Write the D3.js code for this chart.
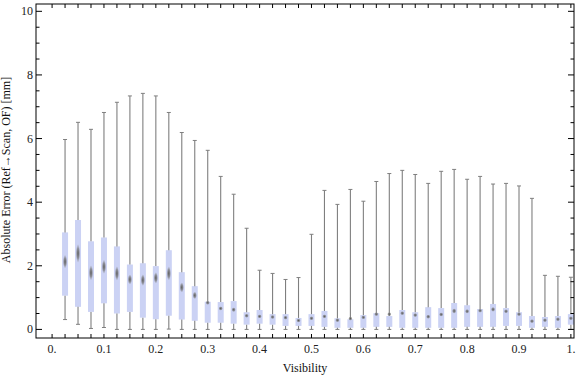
<!DOCTYPE html>
<html>
<head>
<meta charset="utf-8">
<script src="https://d3js.org/d3.v7.min.js"></script>
<style>
  body { margin: 0; background: #fff; }
  text { font-family: "Liberation Serif", "DejaVu Serif", serif; }
</style>
</head>
<body>
<div id="chart"></div>
<script>

// box whisker data
var visibility = [0.025, 0.05, 0.075, 0.1, 0.125, 0.15, 0.175, 0.2, 0.225, 0.25,
                  0.275, 0.3, 0.325, 0.35, 0.375, 0.4, 0.425, 0.45, 0.475, 0.5,
                  0.525, 0.55, 0.575, 0.6, 0.625, 0.65, 0.675, 0.7, 0.725, 0.75,
                  0.775, 0.8, 0.825, 0.85, 0.875, 0.9, 0.925, 0.95, 0.975, 1.0];

var minVals = [0.31, 0.16, 0.03, 0.06, 0, 0, 0, 0, 0.01, 0,
               0, 0, 0, 0, 0, 0, 0, 0, 0, 0,
               0, 0, 0, 0, 0, 0, 0, 0, 0, 0,
               0, 0, 0, 0, 0, 0, 0, 0, 0, 0];

var q1Vals = [1.06, 0.71, 0.55, 0.82, 0.50, 0.55, 0.37, 0.32, 0.43, 0.31,
              0.27, 0.21, 0.21, 0.18, 0.15, 0.18, 0.15, 0.11, 0.11, 0.11,
              0.08, 0.05, 0.05, 0.05, 0.08, 0.08, 0.05, 0.05, 0.05, 0.05,
              0.05, 0.08, 0.08, 0.08, 0.11, 0.11, 0.05, 0.08, 0.05, 0.15];

var medianVals = [2.13, 2.39, 1.78, 1.97, 1.76, 1.57, 1.55, 1.62, 1.76, 1.32,
                  1.07, 0.84, 0.66, 0.62, 0.43, 0.41, 0.39, 0.37, 0.28, 0.35,
                  0.41, 0.29, 0.34, 0.38, 0.48, 0.48, 0.51, 0.45, 0.40, 0.47,
                  0.58, 0.57, 0.59, 0.63, 0.57, 0.48, 0.26, 0.29, 0.32, 0.35];

var q3Vals = [3.05, 3.44, 2.77, 2.89, 2.61, 2.04, 2.08, 1.99, 2.49, 1.80,
              1.36, 0.87, 0.86, 0.89, 0.54, 0.61, 0.48, 0.48, 0.36, 0.48,
              0.58, 0.35, 0.32, 0.45, 0.51, 0.42, 0.61, 0.54, 0.70, 0.67,
              0.83, 0.76, 0.64, 0.80, 0.67, 0.54, 0.42, 0.39, 0.42, 0.48];

var maxVals = [5.97, 6.51, 6.29, 6.82, 7.14, 7.34, 7.42, 7.34, 6.82, 6.19,
               5.94, 5.63, 4.81, 4.25, 3.18, 1.86, 1.76, 1.57, 1.63, 2.99,
               4.37, 3.93, 4.40, 4.03, 4.65, 4.90, 5.00, 4.87, 4.59, 4.97,
               5.03, 4.72, 4.81, 4.57, 4.59, 4.51, 4.12, 1.70, 1.67, 1.64];

var xTickLabels = ["0.", "0.1", "0.2", "0.3", "0.4", "0.5", "0.6", "0.7", "0.8", "0.9", "1."];
var yTickLabels = ["0", "2", "4", "6", "8", "10"];

var boxData = visibility.map(function (v, i) {
    return { x: v, min: minVals[i], q1: q1Vals[i], med: medianVals[i], q3: q3Vals[i], max: maxVals[i] };
});

// svg params
var svgWidth = 576;
var svgHeight = 377;

var margin = { top: 4, right: 2, bottom: 39, left: 36 };
var width = svgWidth - margin.left - margin.right;
var height = svgHeight - margin.top - margin.bottom;

var svg = d3.select("#chart")
    .append("svg")
    .attr("width", svgWidth)
    .attr("height", svgHeight);

var defs = svg.append("defs");

defs.append("clipPath")
    .attr("id", "plotClip")
    .append("rect")
    .attr("width", width)
    .attr("height", height);

// blurred median mark
var grad = defs.append("radialGradient").attr("id", "medGrad");
grad.append("stop").attr("offset", "0%").attr("stop-color", "#5a5a5a").attr("stop-opacity", 1);
grad.append("stop").attr("offset", "55%").attr("stop-color", "#777").attr("stop-opacity", 0.7);
grad.append("stop").attr("offset", "100%").attr("stop-color", "#999").attr("stop-opacity", 0);

var chartGroup = svg.append("g")
    .attr("transform", `translate(${margin.left}, ${margin.top})`);

// scales
var xLinearScale = d3.scaleLinear()
    .domain([-0.031, 1.006])
    .range([0, width]);

var yLinearScale = d3.scaleLinear()
    .domain([-0.27, 10.23])
    .range([height, 0]);

var xMinor = d3.range(0, 41).map(function (i) { return i * 0.025; });
var xMajor = d3.range(0, 11).map(function (i) { return i / 10; });
var yMajor = yTickLabels.map(Number);
var yMinor = d3.range(0, 21).map(function (i) { return i * 0.5; }).filter(function (v) { return v % 2 !== 0; });

// boxes
var plot = chartGroup.append("g").attr("clip-path", "url(#plotClip)");

var boxW = 6;
var capW = 4;

var groups = plot.selectAll(".box")
    .data(boxData)
    .enter()
    .append("g")
    .attr("class", "box")
    .attr("transform", d => `translate(${xLinearScale(d.x)}, 0)`);

groups.append("rect")
    .attr("x", -boxW / 2)
    .attr("y", d => yLinearScale(d.q3))
    .attr("width", boxW)
    .attr("height", d => yLinearScale(d.q1) - yLinearScale(d.q3))
    .attr("fill", "#cbd2f4");

// whisker below and above the box
groups.append("line")
    .attr("x1", 0).attr("x2", 0)
    .attr("y1", d => yLinearScale(d.min))
    .attr("y2", d => yLinearScale(d.q1))
    .attr("stroke", "#7f7f7f")
    .attr("stroke-width", 1.1);

groups.append("line")
    .attr("x1", 0).attr("x2", 0)
    .attr("y1", d => yLinearScale(d.q3))
    .attr("y2", d => yLinearScale(d.max))
    .attr("stroke", "#7f7f7f")
    .attr("stroke-width", 1.1);

groups.selectAll(".cap")
    .data(d => [d.min, d.max])
    .enter()
    .append("line")
    .attr("class", "cap")
    .attr("x1", -capW / 2).attr("x2", capW / 2)
    .attr("y1", v => yLinearScale(v))
    .attr("y2", v => yLinearScale(v))
    .attr("stroke", "#7f7f7f")
    .attr("stroke-width", 1);

groups.append("ellipse")
    .attr("cx", 0)
    .attr("cy", d => yLinearScale(d.med))
    .attr("rx", 2.2)
    .attr("ry", d => Math.max(2.2, (yLinearScale(d.q1) - yLinearScale(d.q3)) * 0.11))
    .attr("fill", "url(#medGrad)");

// frame
chartGroup.append("rect")
    .attr("x", 0).attr("y", 0)
    .attr("width", width).attr("height", height)
    .attr("fill", "none")
    .attr("stroke", "#000")
    .attr("stroke-width", 1);

// ticks on all four sides
var tickG = chartGroup.append("g").attr("stroke", "#000").attr("stroke-width", 1);

xMinor.forEach(function (v) {
    var x = xLinearScale(v);
    tickG.append("line").attr("x1", x).attr("x2", x).attr("y1", height).attr("y2", height - 4);
    tickG.append("line").attr("x1", x).attr("x2", x).attr("y1", 0).attr("y2", 4);
});

yMajor.forEach(function (v) {
    var y = yLinearScale(v);
    tickG.append("line").attr("x1", 0).attr("x2", 6).attr("y1", y).attr("y2", y);
    tickG.append("line").attr("x1", width).attr("x2", width - 6).attr("y1", y).attr("y2", y);
});

yMinor.forEach(function (v) {
    var y = yLinearScale(v);
    tickG.append("line").attr("x1", 0).attr("x2", 3.5).attr("y1", y).attr("y2", y);
    tickG.append("line").attr("x1", width).attr("x2", width - 3.5).attr("y1", y).attr("y2", y);
});

// tick labels
chartGroup.selectAll(".xlabel")
    .data(xMajor)
    .enter()
    .append("text")
    .attr("class", "xlabel")
    .attr("x", d => xLinearScale(d))
    .attr("y", height + 15)
    .attr("text-anchor", "middle")
    .attr("font-size", "12px")
    .attr("fill", "#222")
    .text((d, i) => xTickLabels[i]);

chartGroup.selectAll(".ylabel")
    .data(yMajor)
    .enter()
    .append("text")
    .attr("class", "ylabel")
    .attr("x", -3)
    .attr("y", d => yLinearScale(d) + 4)
    .attr("text-anchor", "end")
    .attr("font-size", "12px")
    .attr("fill", "#222")
    .text((d, i) => yTickLabels[i]);

// axis titles
chartGroup.append("text")
    .attr("x", width / 2)
    .attr("y", height + 34)
    .attr("text-anchor", "middle")
    .attr("font-size", "12px")
    .attr("fill", "#111")
    .text("Visibility");

chartGroup.append("text")
    .attr("transform", "rotate(-90)")
    .attr("x", -(170 - margin.top))
    .attr("y", -26)
    .attr("text-anchor", "middle")
    .attr("font-size", "12px")
    .attr("fill", "#111")
    .text("Absolute Error (Ref\u2192Scan, OF) [mm]");

</script>
</body>
</html>
